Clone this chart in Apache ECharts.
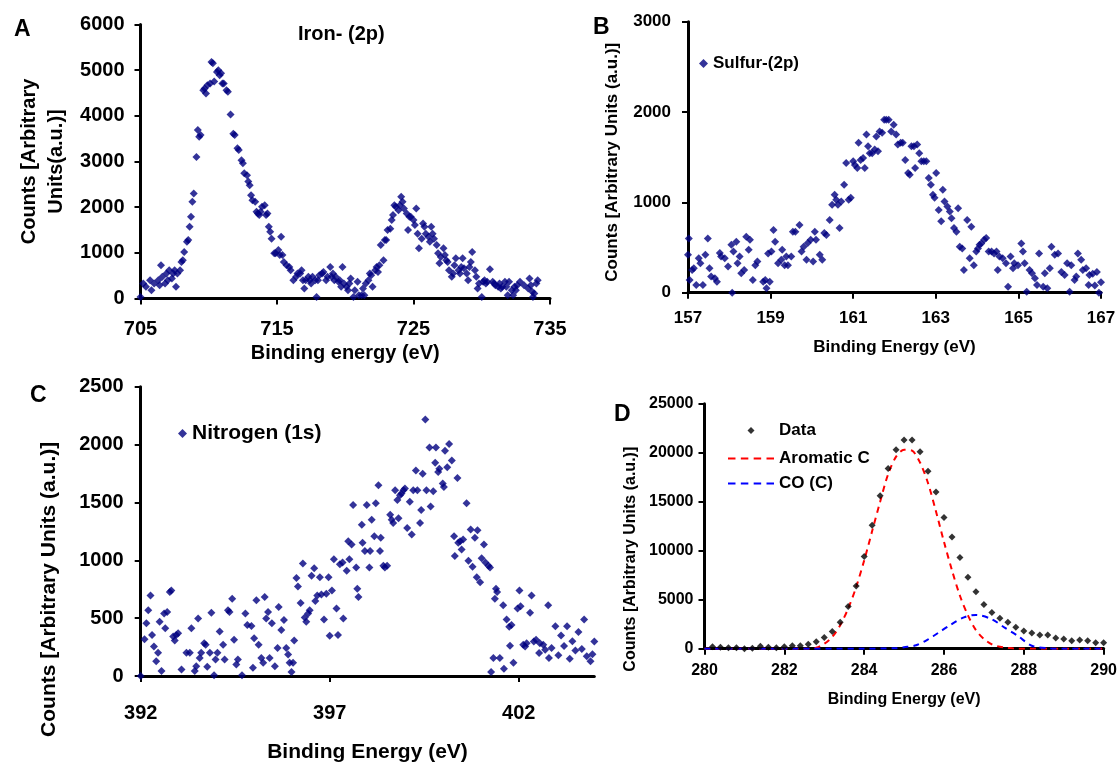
<!DOCTYPE html>
<html><head><meta charset="utf-8">
<script src="https://cdn.jsdelivr.net/npm/echarts@6/dist/echarts.min.js"></script>
<style>html,body{margin:0;padding:0;background:#fff}#c{width:1120px;height:764px}</style>
</head><body><div id="c"></div>
<script>
// ---------- Panel A: Iron (2p) ----------
const ironData = [[705.0,35],[705.2,330],[705.4,255],[705.7,400],[705.8,180],[706.0,330],[706.3,400],[706.4,290],[706.5,730],[706.6,475],[706.8,330],[706.9,550],[707.0,400],[707.1,620],[707.3,440],[707.4,550],[707.5,620],[707.6,255],[707.7,550],[707.9,620],[708.0,800],[708.1,840],[708.2,1020],[708.4,1240],[708.5,1280],[708.6,1570],[708.7,1790],[708.8,2120],[708.9,2300],[709.1,3100],[709.2,3690],[709.3,3540],[709.4,3580],[709.6,4560],[709.7,4600],[709.8,4490],[709.9,4670],[710.1,4710],[710.2,5180],[710.3,5150],[710.4,4750],[710.6,4960],[710.7,5000],[710.8,4890],[710.9,4930],[711.0,4710],[711.1,4710],[711.3,4560],[711.4,4530],[711.6,4030],[711.8,3610],[711.9,3580],[712.1,3290],[712.2,3250],[712.4,3030],[712.5,2960],[712.6,2740],[712.8,2700],[712.9,2560],[713.0,2480],[713.1,2260],[713.2,2150],[713.4,2120],[713.5,1900],[713.6,1860],[713.7,1830],[713.8,1900],[713.9,2010],[714.1,2040],[714.2,1830],[714.3,1860],[714.4,1570],[714.5,1460],[714.6,1310],[714.8,990],[714.9,990],[715.1,1060],[715.2,950],[715.3,1350],[715.4,950],[715.5,800],[715.7,730],[715.9,690],[716.0,620],[716.2,400],[716.4,475],[716.5,550],[716.7,550],[716.8,620],[716.9,400],[717.0,220],[717.1,400],[717.3,475],[717.4,400],[717.5,330],[717.6,475],[717.8,400],[717.9,35],[718.0,400],[718.1,510],[718.3,550],[718.4,580],[718.6,400],[718.7,475],[718.9,690],[719.0,475],[719.1,550],[719.2,400],[719.3,475],[719.5,365],[719.6,400],[719.7,255],[719.8,690],[719.9,330],[720.1,255],[720.2,180],[720.3,330],[720.4,440],[720.6,35],[720.7,180],[720.9,365],[721.0,70],[721.2,70],[721.3,220],[721.4,70],[721.5,330],[721.7,400],[721.8,550],[721.9,510],[722.0,255],[722.2,620],[722.3,690],[722.4,580],[722.5,730],[722.6,1170],[722.8,840],[722.9,1280],[723.0,1280],[723.1,1500],[723.3,1530],[723.4,1720],[723.5,1830],[723.6,2040],[723.7,2010],[723.9,1930],[724.0,2040],[724.1,2230],[724.2,2120],[724.3,1970],[724.5,1860],[724.6,1500],[724.7,1790],[724.8,1790],[725.0,1720],[725.1,1610],[725.2,1970],[725.3,1420],[725.4,1100],[725.6,1310],[725.7,1640],[725.8,1570],[725.9,1420],[726.1,1350],[726.2,1240],[726.3,1570],[726.4,1420],[726.5,1310],[726.7,1170],[726.8,990],[726.9,770],[727.0,910],[727.2,1100],[727.3,950],[727.4,840],[727.5,800],[727.6,620],[727.8,475],[727.9,550],[728.0,730],[728.1,880],[728.3,620],[728.4,550],[728.5,690],[728.6,880],[728.7,660],[728.9,550],[729.0,400],[729.1,690],[729.2,800],[729.3,1020],[729.5,620],[729.6,475],[729.7,220],[729.8,330],[730.0,35],[730.1,365],[730.2,400],[730.3,330],[730.4,365],[730.6,640],[730.8,365],[730.9,330],[731.0,290],[731.2,255],[731.3,330],[731.4,220],[731.5,255],[731.7,365],[731.8,255],[731.9,70],[732.0,365],[732.2,180],[732.3,70],[732.4,255],[732.5,180],[732.6,290],[732.8,365],[733.1,290],[733.4,220],[733.5,440],[733.6,290],[733.7,146],[733.75,35],[733.85,110],[734.0,330],[734.1,400]];
const ironXTicks = [705, 715, 725, 735];

// ---------- Panel B: Sulfur (2p) ----------
const sulfurData = [[157.0,420],[157.02,600],[157.04,140],[157.1,250],[157.14,270],[157.2,85],[157.26,380],[157.3,325],[157.36,85],[157.42,420],[157.48,600],[157.52,270],[157.56,180],[157.65,160],[157.7,120],[157.77,440],[157.8,400],[157.89,380],[157.97,290],[158.05,530],[158.07,0],[158.1,455],[158.17,565],[158.2,325],[158.25,400],[158.29,215],[158.36,250],[158.41,620],[158.47,475],[158.5,585],[158.57,140],[158.63,305],[158.68,345],[158.82,120],[158.87,140],[158.9,50],[158.94,435],[158.98,120],[159.02,455],[159.07,695],[159.11,565],[159.18,325],[159.26,365],[159.28,475],[159.34,305],[159.38,400],[159.42,305],[159.5,400],[159.54,675],[159.6,675],[159.7,750],[159.75,455],[159.8,510],[159.87,365],[159.9,550],[159.97,585],[160.03,345],[160.07,675],[160.1,585],[160.19,420],[160.25,365],[160.3,660],[160.35,640],[160.43,805],[160.49,975],[160.55,1085],[160.59,1030],[160.63,975],[160.67,715],[160.71,1010],[160.78,1195],[160.83,1435],[160.89,1030],[160.94,1050],[161.0,1455],[161.04,1415],[161.1,1380],[161.13,1660],[161.18,1470],[161.24,1490],[161.28,1380],[161.32,1750],[161.36,1620],[161.4,1545],[161.46,1545],[161.52,1585],[161.56,1730],[161.6,1565],[161.64,1785],[161.7,1770],[161.75,1915],[161.8,1915],[161.86,1915],[161.92,1785],[161.98,1860],[162.04,1750],[162.08,1640],[162.15,1660],[162.2,1660],[162.26,1470],[162.33,1325],[162.37,1305],[162.41,1620],[162.47,1620],[162.5,1380],[162.55,1640],[162.6,1545],[162.65,1455],[162.71,1455],[162.77,1455],[162.83,1270],[162.88,1195],[162.93,1085],[162.97,1050],[163.01,1325],[163.07,915],[163.13,790],[163.17,1140],[163.21,1010],[163.28,955],[163.34,900],[163.38,825],[163.44,715],[163.5,675],[163.54,935],[163.58,510],[163.64,490],[163.68,250],[163.76,805],[163.82,380],[163.86,730],[163.92,305],[163.98,455],[164.02,490],[164.06,530],[164.1,545],[164.17,585],[164.22,605],[164.28,455],[164.35,455],[164.41,435],[164.47,455],[164.5,250],[164.54,400],[164.62,380],[164.7,325],[164.75,65],[164.81,400],[164.87,270],[164.9,325],[164.99,305],[165.07,545],[165.11,455],[165.15,325],[165.2,10],[165.27,250],[165.33,215],[165.4,160],[165.45,85],[165.5,435],[165.6,65],[165.64,215],[165.7,50],[165.76,270],[165.8,510],[165.88,420],[165.96,435],[166.04,230],[166.12,195],[166.18,325],[166.24,10],[166.28,305],[166.36,140],[166.4,180],[166.44,435],[166.52,365],[166.56,250],[166.64,270],[166.7,85],[166.72,195],[166.8,210],[166.85,80],[166.9,230],[166.95,0],[167.0,117]];
const sulfurXTicks = [157, 159, 161, 163, 165, 167];

// ---------- Panel C: Nitrogen (1s) ----------
const nitrogenData = [[392.0,0],[392.1,318],[392.15,455],[392.2,568],[392.26,696],[392.3,355],[392.35,256],[392.41,128],[392.46,200],[392.5,469],[392.55,43],[392.62,540],[392.65,412],[392.7,554],[392.77,725],[392.81,739],[392.86,341],[392.9,307],[392.94,355],[392.99,370],[393.08,57],[393.21,200],[393.3,200],[393.34,412],[393.43,43],[393.47,85],[393.52,497],[393.56,156],[393.6,200],[393.68,284],[393.72,270],[393.76,80],[393.83,200],[393.87,546],[393.94,6],[393.98,142],[394.03,200],[394.09,384],[394.18,270],[394.22,142],[394.31,568],[394.35,554],[394.42,668],[394.47,313],[394.53,99],[394.57,142],[394.68,6],[394.77,540],[394.82,440],[394.93,432],[394.97,71],[395.0,327],[395.06,654],[395.12,270],[395.19,156],[395.24,114],[395.28,682],[395.32,497],[395.37,554],[395.41,156],[395.47,455],[395.55,85],[395.62,241],[395.65,597],[395.72,398],[395.79,483],[395.85,241],[395.9,185],[395.94,114],[395.99,34],[396.03,114],[396.06,307],[396.12,847],[396.16,773],[396.23,631],[396.29,972],[396.34,506],[396.38,469],[396.43,540],[396.47,568],[396.52,867],[396.59,932],[396.62,648],[396.67,696],[396.74,853],[396.78,705],[396.85,489],[396.91,711],[396.97,853],[397.0,347],[397.06,739],[397.11,1009],[397.18,583],[397.22,355],[397.27,966],[397.34,980],[397.36,497],[397.45,909],[397.49,1165],[397.52,1009],[397.58,1137],[397.62,1478],[397.7,938],[397.73,753],[397.76,682],[397.85,1307],[397.87,1151],[397.93,1080],[397.98,1478],[398.05,938],[398.07,1080],[398.11,1350],[398.18,1208],[398.22,1492],[398.29,1648],[398.33,1080],[398.35,1194],[398.42,952],[398.46,938],[398.52,952],[398.6,1393],[398.64,1350],[398.68,1322],[398.73,1606],[398.79,1520],[398.82,1364],[398.86,1563],[398.9,1577],[398.95,1606],[398.99,1620],[399.05,1279],[399.12,1506],[399.17,1222],[399.21,1606],[399.28,1776],[399.32,1606],[399.39,1322],[399.42,1435],[399.46,1748],[399.53,2217],[399.56,1606],[399.64,1975],[399.67,1464],[399.74,1597],[399.79,1842],[399.81,1975],[399.87,1762],[399.9,1790],[399.99,1663],[400.02,1634],[400.05,1947],[400.11,1805],[400.16,2004],[400.23,1862],[400.29,1208],[400.31,1037],[400.38,1711],[400.4,1151],[400.45,1165],[400.49,1094],[400.53,1180],[400.62,1492],[400.67,995],[400.73,1265],[400.78,944],[400.84,1194],[400.89,853],[400.91,1259],[400.98,810],[401.02,1017],[401.08,1137],[401.12,980],[401.2,952],[401.24,938],[401.27,34],[401.33,156],[401.37,668],[401.4,753],[401.43,725],[401.5,156],[401.59,611],[401.61,63],[401.68,489],[401.75,426],[401.77,261],[401.81,440],[401.86,114],[401.97,583],[402.02,739],[402.05,603],[402.12,270],[402.17,256],[402.21,284],[402.3,546],[402.34,696],[402.4,298],[402.46,313],[402.54,199],[402.56,284],[402.65,270],[402.7,227],[402.78,611],[402.8,156],[402.87,243],[402.97,429],[403.05,180],[403.12,350],[403.2,260],[403.28,430],[403.35,150],[403.42,300],[403.5,220],[403.58,380],[403.67,233],[403.73,489],[403.8,170],[403.9,128],[403.95,187],[404.0,298]];
const nitrogenXTicks = [392, 397, 402];

// ---------- Panel D: Carbon (1s) ----------
const carbonData = [[280.2,200],[280.4,150],[280.6,100],[280.8,100],[281.0,0],[281.2,50],[281.4,250],[281.6,150],[281.8,100],[282.0,200],[282.2,300],[282.4,300],[282.6,450],[282.8,700],[283.0,1150],[283.2,1750],[283.4,2700],[283.6,4300],[283.8,6400],[284.0,9400],[284.2,12600],[284.4,15600],[284.6,18400],[284.8,20300],[285.0,21300],[285.2,21300],[285.4,20100],[285.6,18100],[285.8,16000],[286.0,13400],[286.2,11400],[286.4,9300],[286.6,7300],[286.8,5800],[287.0,4500],[287.2,3700],[287.4,3100],[287.6,2700],[287.8,2200],[288.0,1800],[288.2,1600],[288.4,1400],[288.6,1400],[288.8,1100],[289.0,1000],[289.2,800],[289.4,900],[289.6,800],[289.8,600],[290.0,600]];
const aromaticC = [[280.0,0],[281.0,0],[282.0,0],[282.6,0],[282.8,100],[283.0,500],[283.2,1200],[283.4,2400],[283.6,4100],[283.8,6300],[284.0,9000],[284.2,12000],[284.4,15000],[284.6,17800],[284.8,19600],[285.0,20300],[285.2,20200],[285.4,19000],[285.6,16900],[285.8,14000],[286.0,10900],[286.2,8000],[286.4,5400],[286.6,3400],[286.8,1900],[287.0,1000],[287.2,450],[287.4,200],[287.6,80],[287.8,0],[289.0,0],[290.0,0]];
const coC = [[280.0,0],[282.0,0],[284.0,0],[284.8,50],[285.0,150],[285.3,350],[285.6,950],[285.85,1600],[286.15,2400],[286.5,3200],[286.8,3450],[287.2,3000],[287.5,2200],[287.85,1300],[288.2,300],[288.6,50],[289.0,0],[290.0,0]];
const carbonXTicks = [280, 282, 284, 286, 288, 290];

const FONT = '"Liberation Sans", Arial, sans-serif';
const NAVY = '#000080';
const DASH_ICON = 'path://M0,0h7v2h-7z M12,0h7v2h-7z M24,0h7v2h-7z M36,0h7v2h-7z';
const DIAMOND_ICON = 'path://M0,0 M46,7 M19.5,3.5L23,0L26.5,3.5L23,7Z';
const plain = v => String(v);

function xAxis(gi, min, max, ticks, name, fs, nfs, margin, nameGap) {
  return {
    type: 'value', gridIndex: gi, min: min, max: max,
    name: name, nameLocation: 'middle', nameGap: nameGap,
    nameTextStyle: {fontFamily: FONT, fontWeight: 'bold', fontSize: nfs, color: '#000', verticalAlign: 'top'},
    axisLine: {show: true, onZero: false, lineStyle: {color: '#000', width: 3}},
    axisTick: {show: true, length: 6, customValues: ticks, lineStyle: {color: '#000', width: 2}},
    axisLabel: {customValues: ticks, formatter: plain, fontFamily: FONT, fontWeight: 'bold', fontSize: fs, color: '#000', margin: margin},
    splitLine: {show: false}
  };
}
function yAxis(gi, max, interval, name, fs, nfs, margin, nameGap, lh, shift) {
  return {
    type: 'value', gridIndex: gi, min: 0, max: max, interval: interval,
    name: name, nameLocation: 'middle', nameGap: nameGap,
    nameTextStyle: {fontFamily: FONT, fontWeight: 'bold', fontSize: nfs, color: '#000', lineHeight: lh,
                    padding: [0, shift * 2, 0, 0]},
    axisLine: {show: true, onZero: false, lineStyle: {color: '#000', width: 3}},
    axisTick: {show: true, length: 6, lineStyle: {color: '#000', width: 2}},
    axisLabel: {formatter: plain, fontFamily: FONT, fontWeight: 'bold', fontSize: fs, color: '#000', margin: margin},
    splitLine: {show: false}
  };
}
const letter = (t, l, tp) => ({text: t, left: l, top: tp, textStyle: {fontFamily: FONT, fontWeight: 'bold', fontSize: 23, color: '#000'}});
const legText = fs => ({fontFamily: FONT, fontWeight: 'bold', fontSize: fs, color: '#000'});

const option = {
  animation: false,
  backgroundColor: '#fff',
  title: [
    letter('A', 9, 13), letter('B', 588, 11), letter('C', 25, 379), letter('D', 609, 398),
    {text: 'Iron- (2p)', left: 293, top: 19, textStyle: {fontFamily: FONT, fontWeight: 'bold', fontSize: 20, color: '#000'}}
  ],
  legend: [
    {data: ['Sulfur-(2p)'], left: 694, top: 50, icon: 'diamond', itemWidth: 9, itemHeight: 9, textStyle: legText(17)},
    {data: ['Nitrogen (1s)'], left: 173, top: 418, icon: 'diamond', itemWidth: 9, itemHeight: 9, textStyle: legText(21)},
    {data: [{name: 'Data', icon: DIAMOND_ICON}], left: 723, top: 417, itemWidth: 46, itemHeight: 7, symbolKeepAspect: true, textStyle: legText(17)},
    {data: [{name: 'Aromatic C', icon: DASH_ICON}, {name: 'CO (C)', icon: DASH_ICON}], orient: 'vertical', left: 723, top: 445,
     itemWidth: 46, itemHeight: 10, itemGap: 8, symbolKeepAspect: true, textStyle: legText(17)}
  ],
  grid: [
    {left: 140.5, top: 24.5, width: 409.5, height: 274},
    {left: 688, top: 21.7, width: 413, height: 271},
    {left: 140.7, top: 386.7, width: 453.6, height: 293.3},
    {left: 704.5, top: 403.7, width: 400, height: 245}
  ],
  xAxis: [
    xAxis(0, 705, 735, ironXTicks, 'Binding energy (eV)', 20, 20, 21, 45),
    xAxis(1, 157, 167, sulfurXTicks, 'Binding Energy (eV)', 17, 17, 17, 46),
    xAxis(2, 392, 404, nitrogenXTicks, 'Binding Energy (eV)', 20, 21, 27, 66),
    xAxis(3, 280, 290, carbonXTicks, 'Binding Energy (eV)', 16, 16, 14, 43)
  ],
  yAxis: [
    yAxis(0, 6000, 1000, 'Counts [Arbitrary\nUnits(a.u.)]', 20, 20, 16, 71, 27, 0),
    yAxis(1, 3000, 1000, 'Counts [Arbitrary Units (a.u.)]', 17, 17, 17, 66, 20, 5),
    yAxis(2, 2500, 500, 'Counts [Arbitrary Units (a.u.)]', 20, 21, 17, 79, 24, 58),
    yAxis(3, 25000, 5000, 'Counts [Arbitrary Units (a.u.)]', 16, 16, 11, 65, 18, 33)
  ],
  series: [
    {name: 'Iron- (2p)', type: 'scatter', xAxisIndex: 0, yAxisIndex: 0, data: ironData,
     symbol: 'diamond', symbolSize: 8, itemStyle: {color: NAVY}},
    {name: 'Sulfur-(2p)', type: 'scatter', xAxisIndex: 1, yAxisIndex: 1, data: sulfurData,
     symbol: 'diamond', symbolSize: 8, itemStyle: {color: NAVY}},
    {name: 'Nitrogen (1s)', type: 'scatter', xAxisIndex: 2, yAxisIndex: 2, data: nitrogenData,
     symbol: 'diamond', symbolSize: 8, itemStyle: {color: NAVY}},
    {name: 'Aromatic C', type: 'line', xAxisIndex: 3, yAxisIndex: 3, data: aromaticC, smooth: 0.3,
     symbol: 'none', lineStyle: {color: '#ff0000', width: 2, type: [6, 5]}, itemStyle: {color: '#ff0000'}, z: 3},
    {name: 'CO (C)', type: 'line', xAxisIndex: 3, yAxisIndex: 3, data: coC, smooth: 0.3,
     symbol: 'none', lineStyle: {color: '#0000ff', width: 2, type: [6, 5]}, itemStyle: {color: '#0000ff'}, z: 3},
    {name: 'Data', type: 'scatter', xAxisIndex: 3, yAxisIndex: 3, data: carbonData,
     symbol: 'diamond', symbolSize: 7, itemStyle: {color: '#000'}, z: 4}
  ]
};
const chart = echarts.init(document.getElementById('c'), null, {renderer: 'canvas'});
chart.setOption(option);
</script>
</body></html>
